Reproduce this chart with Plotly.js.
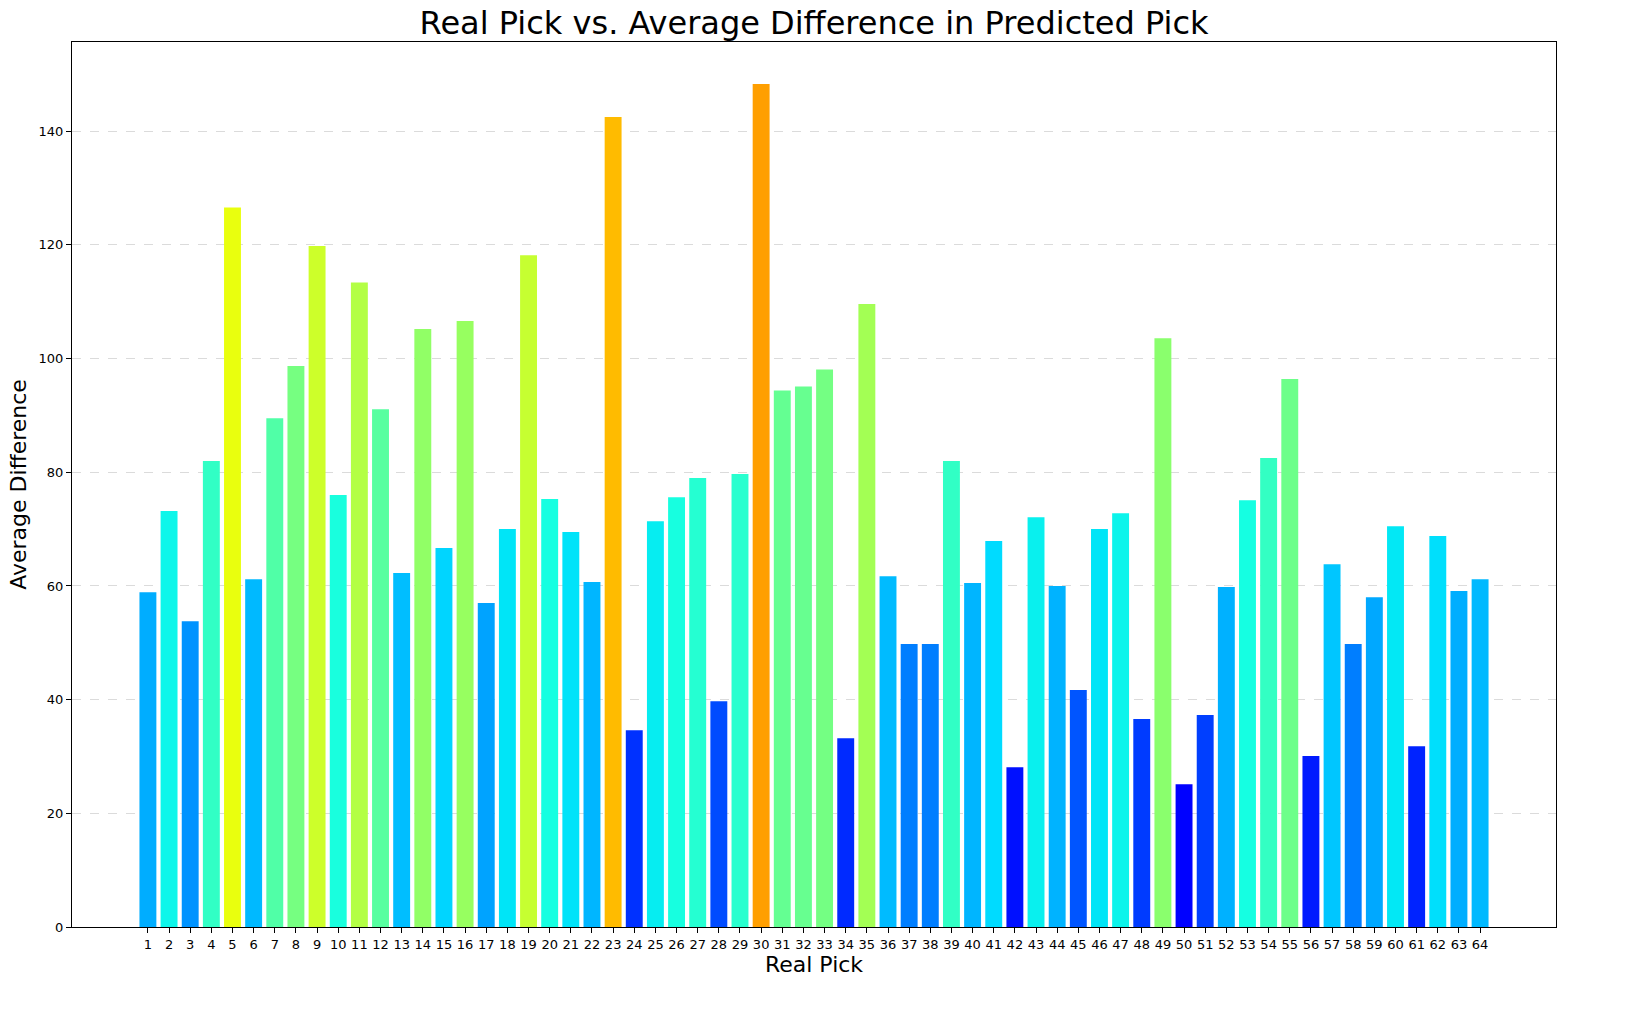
<!DOCTYPE html>
<html>
<head>
<meta charset="utf-8">
<script src="https://cdn.plot.ly/plotly-3.0.1.min.js"></script>
<style>html,body{margin:0;padding:0;background:#fff;}#chart{width:1638px;height:1030px;}</style>
</head>
<body>
<div id="chart"></div>
<script>
const picks = Array.from({length: 64}, (_, i) => i + 1);
const avgDiff = [
  58.9, 73.2, 53.8, 82.0, 126.6, 61.2, 89.5, 98.7, 119.8, 76.0,
  113.4, 91.1, 62.3, 105.2, 66.7, 106.6, 57.0, 70.0, 118.2, 75.3,
  69.5, 60.7, 142.5, 34.6, 71.4, 75.6, 79.0, 39.7, 79.7, 148.3,
  94.4, 95.1, 98.1, 33.2, 109.6, 61.7, 49.8, 49.8, 82.0, 60.5,
  67.9, 28.1, 72.1, 60.0, 41.7, 70.0, 72.8, 36.6, 103.6, 25.1,
  37.3, 59.8, 75.1, 82.5, 96.4, 30.1, 63.8, 49.8, 58.0, 70.5,
  31.8, 68.8, 59.1, 61.2
];
const yTicks = [0, 20, 40, 60, 80, 100, 120, 140];

function interp(x, pts) {
  for (let i = 0; i < pts.length - 1; i++) {
    const [x0, y0] = pts[i], [x1, y1] = pts[i + 1];
    if (x >= x0 && x <= x1) return y0 + (y1 - y0) * (x - x0) / (x1 - x0);
  }
  return x < pts[0][0] ? pts[0][1] : pts[pts.length - 1][1];
}
function jet(x) {
  const r = interp(x, [[0,0],[0.35,0],[0.66,1],[0.89,1],[1,0.5]]);
  const g = interp(x, [[0,0],[0.125,0],[0.375,1],[0.64,1],[0.91,0],[1,0]]);
  const b = interp(x, [[0,0.5],[0.11,1],[0.34,1],[0.65,0],[1,0]]);
  return `rgb(${Math.round(r*255)},${Math.round(g*255)},${Math.round(b*255)})`;
}
const colors = avgDiff.map(v => jet(v / 200));

const trace = {
  type: 'bar',
  x: picks,
  y: avgDiff,
  width: 0.8,
  marker: {color: colors, line: {width: 0}},
  hoverinfo: 'x+y'
};

const layout = {
  width: 1638, height: 1030,
  margin: {l: 72, r: 82, t: 42, b: 103},
  paper_bgcolor: '#fff', plot_bgcolor: '#fff',
  font: {family: 'DejaVu Sans', color: '#000'},
  title: {text: 'Real Pick vs. Average Difference in Predicted Pick', font: {size: 32, family: 'DejaVu Sans'}, x: 0.497, xanchor: 'center', y: 0.978, yanchor: 'middle'},
  showlegend: false,
  xaxis: {
    range: [-2.59, 67.59],
    tickmode: 'array', tickvals: picks, ticktext: picks.map(String),
    ticks: 'outside', ticklen: 5, tickwidth: 1, tickcolor: '#000',
    tickfont: {size: 13},
    showgrid: false, zeroline: false,
    showline: true, linecolor: '#000', linewidth: 1, mirror: true,
    title: {text: 'Real Pick', font: {size: 22}, standoff: 6}
  },
  yaxis: {
    range: [0, 155.7],
    tickmode: 'array', tickvals: yTicks, ticktext: yTicks.map(String),
    ticks: 'outside', ticklen: 5, tickwidth: 1, tickcolor: '#000',
    tickfont: {size: 13},
    showgrid: true, gridcolor: 'rgba(190,190,190,0.55)', griddash: 'dash', gridwidth: 1,
    zeroline: false,
    showline: true, linecolor: '#000', linewidth: 1, mirror: true,
    title: {text: 'Average Difference', font: {size: 22}, standoff: 5}
  }
};

Plotly.newPlot('chart', [trace], layout, {displayModeBar: false, staticPlot: true});
</script>
</body>
</html>
